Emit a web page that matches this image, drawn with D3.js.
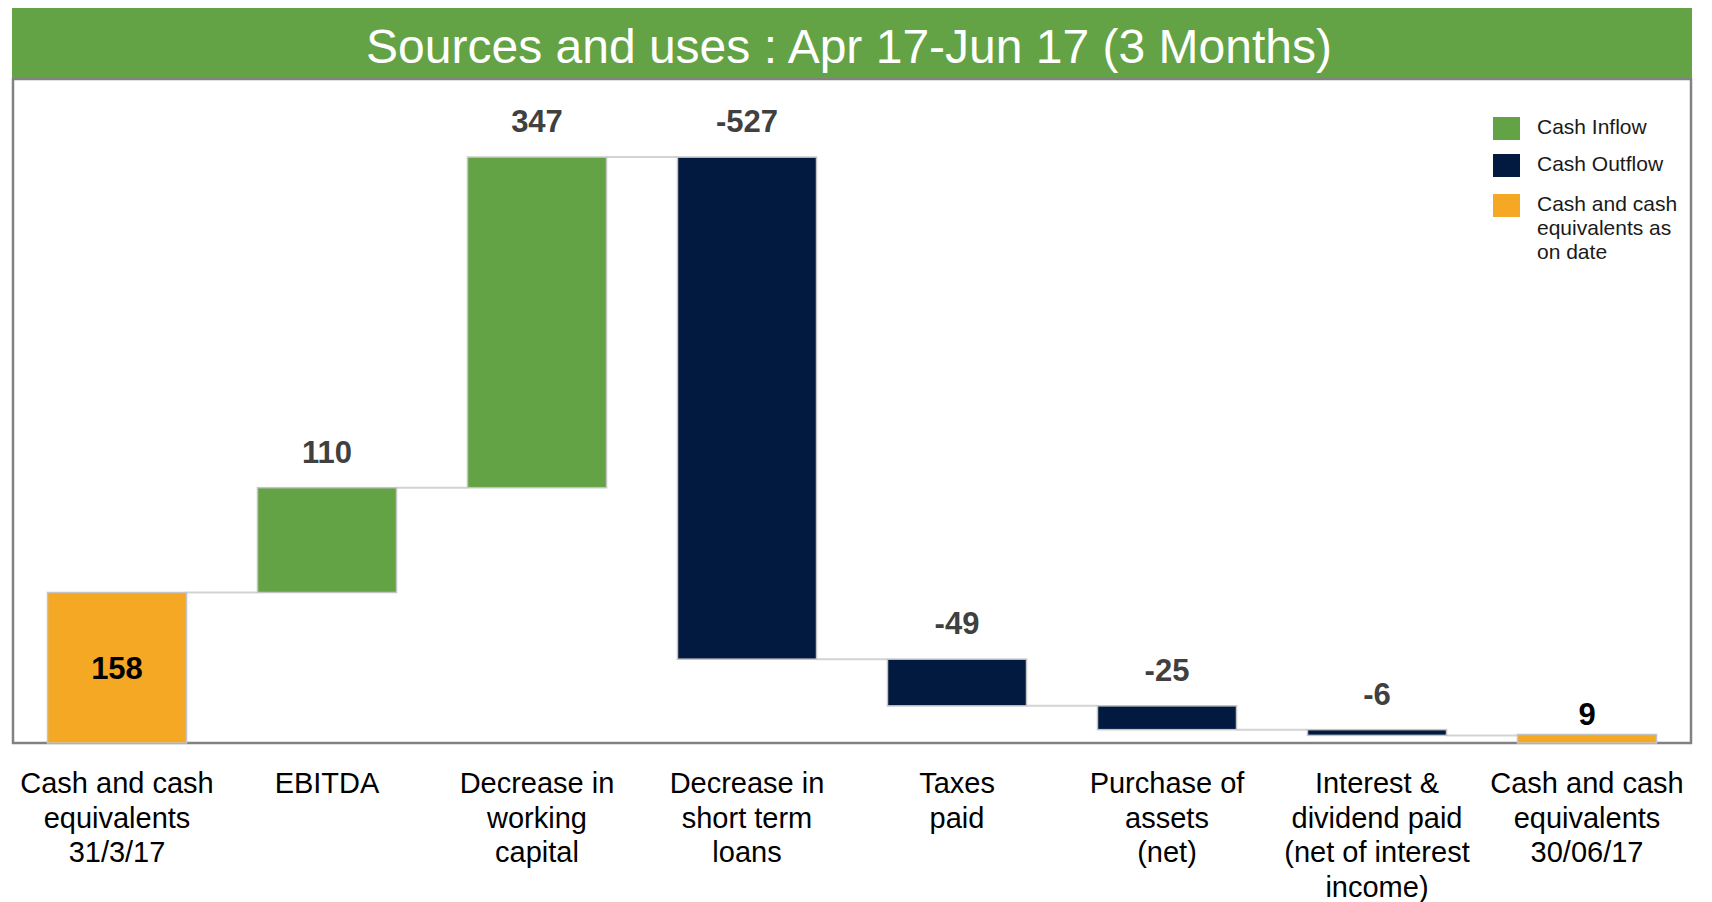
<!DOCTYPE html>
<html>
<head>
<meta charset="utf-8">
<script src="https://cdn.jsdelivr.net/npm/d3@7"></script>
<style>
  html, body { margin: 0; padding: 0; background: #fff; }
  svg { display: block; font-family: "Liberation Sans", Arial, sans-serif; }
</style>
</head>
<body>
<svg id="chart" width="1712" height="902"></svg>
<script>
// data
const categories = [
  ['Cash and cash', 'equivalents', '31/3/17'],
  ['EBITDA'],
  ['Decrease in', 'working', 'capital'],
  ['Decrease in', 'short term', 'loans'],
  ['Taxes', 'paid'],
  ['Purchase of', 'assets', '(net)'],
  ['Interest &', 'dividend paid', '(net of interest', 'income)'],
  ['Cash and cash', 'equivalents', '30/06/17']
];
const values = [158, 110, 347, -527, -49, -25, -6, 9];
const kinds = ['total', 'inflow', 'inflow', 'outflow', 'outflow', 'outflow', 'outflow', 'total'];

const legendLabels = [
  ['Cash Inflow'],
  ['Cash Outflow'],
  ['Cash and cash', 'equivalents as', 'on date']
];
const legendKinds = ['inflow', 'outflow', 'total'];

const title = 'Sources and uses : Apr 17-Jun 17 (3 Months)';

const colors = { inflow: '#63a345', outflow: '#031a40', total: '#f5a824' };

let svg = d3.select('#chart');

let frame = { left: 13, right: 1691, top: 79, bottom: 743 };

// waterfall levels
let running = 0;
let bars = values.map((v, i) => {
  let y0, y1;
  if (kinds[i] === 'total') {
    y0 = 0; y1 = v; running = v;
  } else {
    y0 = running; y1 = running + v; running += v;
  }
  return { i: i, value: v, kind: kinds[i], y0: y0, y1: y1, end: running };
});

let x = d3.scaleBand()
  .domain(d3.range(values.length))
  .range([12, 1692])
  .paddingInner(0.338)
  .paddingOuter(0.169);

let y = d3.scaleLinear()
  .domain([0, 697])
  .range([frame.bottom, frame.top]);

// title band
svg.append('rect')
  .attr('x', 12).attr('y', 8)
  .attr('width', 1680).attr('height', 70)
  .attr('fill', colors.inflow);

svg.append('text')
  .attr('x', 849).attr('y', 63)
  .attr('text-anchor', 'middle')
  .attr('fill', '#fff')
  .style('font-size', '48px')
  .text(title);

// frame
svg.append('rect')
  .attr('x', frame.left).attr('y', frame.top)
  .attr('width', frame.right - frame.left)
  .attr('height', frame.bottom - frame.top)
  .attr('fill', 'none')
  .attr('stroke', '#828282')
  .attr('stroke-width', 2.5);

// connectors
svg.append('g')
  .attr('stroke', '#d3d3d3')
  .attr('stroke-width', 2)
  .selectAll('line').data(bars.slice(0, -1)).enter().append('line')
  .attr('x1', d => x(d.i) + x.bandwidth())
  .attr('x2', d => x(d.i + 1))
  .attr('y1', d => y(d.end))
  .attr('y2', d => y(d.end));

// bars
svg.append('g')
  .selectAll('rect').data(bars).enter().append('rect')
  .attr('x', d => x(d.i))
  .attr('y', d => y(Math.max(d.y0, d.y1)))
  .attr('width', x.bandwidth())
  .attr('height', d => Math.abs(y(d.y0) - y(d.y1)))
  .attr('fill', d => colors[d.kind])
  .attr('stroke', '#c4c4c4')
  .attr('stroke-width', 1.5);

// value labels
svg.append('g')
  .style('font-size', '31px')
  .style('font-weight', 'bold')
  .attr('text-anchor', 'middle')
  .selectAll('text').data(bars).enter().append('text')
  .attr('x', d => x(d.i) + x.bandwidth() / 2)
  .attr('y', d => {
    let top = y(Math.max(d.y0, d.y1));
    let h = Math.abs(y(d.y0) - y(d.y1));
    if (d.kind === 'total') {
      return h > 60 ? top + h / 2 + 11 : top - 9;
    }
    return top - 25;
  })
  .attr('fill', d => d.kind === 'total' ? '#000' : '#404040')
  .text(d => d.value);

// category axis
let xAxis = d3.axisBottom(x)
  .tickSize(0)
  .tickFormat('');

let axisG = svg.append('g')
  .attr('transform', `translate(0,${frame.bottom})`)
  .call(xAxis);
axisG.select('.domain').remove();

axisG.selectAll('.tick').append('text')
  .attr('fill', '#000')
  .attr('text-anchor', 'middle')
  .style('font-size', '29px')
  .style('font-family', '"Liberation Sans", Arial, sans-serif')
  .each(function (d) {
    let t = d3.select(this);
    categories[d].forEach((line, j) => {
      t.append('tspan')
        .attr('x', 0)
        .attr('y', 50 + j * 34.5)
        .text(line);
    });
  });

// legend
let legend = svg.append('g')
  .attr('transform', 'translate(1493,117)');

let items = legend.selectAll('g').data(legendKinds).enter().append('g')
  .attr('transform', (d, i) => `translate(0,${[0, 37, 77][i]})`);

items.append('rect')
  .attr('width', 27).attr('height', 23)
  .attr('fill', d => colors[d]);

items.append('text')
  .attr('fill', '#1a1a1a')
  .style('font-size', '21px')
  .each(function (d, i) {
    let t = d3.select(this);
    legendLabels[i].forEach((line, j) => {
      t.append('tspan')
        .attr('x', 44)
        .attr('y', 17 + j * 24)
        .text(line);
    });
  });
</script>
</body>
</html>
